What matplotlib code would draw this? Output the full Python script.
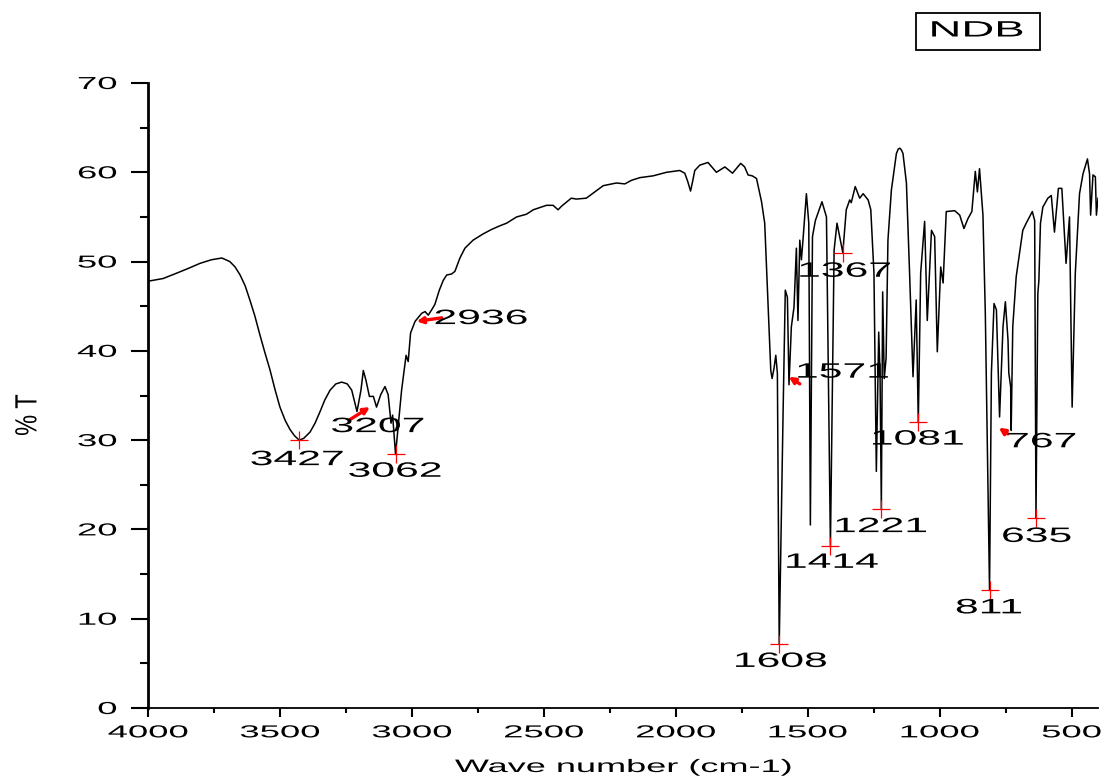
import matplotlib
matplotlib.use("Agg")
import matplotlib.pyplot as plt
from matplotlib import patheffects
from matplotlib.patches import Rectangle
from matplotlib.ticker import MultipleLocator
from matplotlib.transforms import Affine2D

# IR spectrum: wave number (cm-1) and % T
wavenumber = [4000, 3943, 3900, 3850, 3803, 3760, 3720, 3690, 3670, 3651, 3632, 3614,
              3595, 3576, 3557, 3538, 3519, 3500, 3480, 3462, 3445, 3427, 3410, 3386,
              3367, 3348, 3330, 3310, 3288, 3266, 3245, 3228, 3208, 3193, 3184, 3174,
              3161, 3146, 3134, 3118, 3102, 3090, 3079, 3073, 3062, 3052, 3039, 3022,
              3014, 3005, 2988, 2963, 2950, 2938, 2925, 2913, 2896, 2881, 2868, 2850,
              2837, 2818, 2799, 2768, 2730, 2698, 2667, 2641, 2603, 2566, 2540, 2490,
              2465, 2446, 2433, 2396, 2377, 2339, 2275, 2225, 2193, 2168, 2136, 2086,
              2035, 1985, 1966, 1955, 1944, 1936, 1928, 1909, 1878, 1846, 1814, 1785,
              1754, 1739, 1726, 1710, 1694, 1675, 1663, 1650, 1640, 1635, 1628, 1621,
              1615, 1608, 1593, 1585, 1577, 1571, 1562, 1552, 1543, 1537, 1530, 1524,
              1518, 1505, 1496, 1490, 1482, 1471, 1446, 1429, 1414, 1400, 1389, 1379,
              1367, 1354, 1341, 1335, 1320, 1303, 1290, 1271, 1261, 1249, 1240, 1231,
              1226, 1221, 1216, 1210, 1203, 1196, 1183, 1164, 1157, 1151, 1145, 1139,
              1126, 1114, 1101, 1089, 1081, 1072, 1057, 1047, 1031, 1019, 1009, 996,
              987, 975, 943, 924, 908, 893, 878, 865, 857, 849, 836, 827,
              811, 804, 794, 785, 773, 760, 751, 741, 738, 731, 729, 723,
              710, 685, 672, 663, 649, 640, 635, 628, 624, 618, 609, 590,
              577, 565, 550, 537, 521, 508, 498, 486, 470, 457, 440, 432,
              428, 419, 410, 406, 400]
transmittance = [47.8, 48.1, 48.6, 49.2, 49.8, 50.2, 50.4, 50.0, 49.4, 48.5, 47.3, 45.7,
                 43.9, 41.8, 39.8, 37.9, 35.7, 33.7, 32.2, 31.2, 30.5, 30.0, 30.2, 30.9,
                 31.9, 33.2, 34.5, 35.6, 36.3, 36.5, 36.3, 35.6, 33.2, 35.6, 37.8, 36.7,
                 34.9, 34.9, 33.7, 35.1, 36.0, 35.1, 31.9, 32.8, 28.4, 31.5, 35.6, 39.5,
                 38.8, 42.0, 43.3, 44.2, 44.4, 44.0, 44.6, 45.2, 46.8, 47.9, 48.5, 48.6,
                 48.9, 50.4, 51.5, 52.4, 53.1, 53.6, 54.0, 54.3, 55.0, 55.3, 55.8, 56.3,
                 56.3, 55.8, 56.2, 57.1, 57.0, 57.1, 58.5, 58.8, 58.7, 59.1, 59.4, 59.6,
                 60.0, 60.2, 59.9, 59.0, 57.9, 59.0, 60.2, 60.8, 61.1, 60.0, 60.6, 59.9,
                 61.0, 60.6, 59.7, 59.6, 59.3, 56.7, 54.3, 44.9, 37.8, 36.9, 38.0, 39.5,
                 37.5, 7.2, 33.7, 46.8, 46.0, 36.2, 42.7, 44.9, 51.5, 43.4, 52.4, 50.2,
                 52.4, 57.6, 54.3, 20.5, 52.8, 54.6, 56.7, 55.0, 18.2, 51.3, 54.3, 52.8,
                 51.0, 55.8, 56.9, 56.6, 58.4, 57.1, 57.6, 56.9, 55.8, 48.7, 26.5, 42.1,
                 37.5, 22.3, 46.6, 36.9, 39.2, 52.4, 58.0, 62.1, 62.6, 62.7, 62.5, 62.1,
                 58.8, 48.7, 37.1, 45.7, 32.0, 48.7, 54.5, 43.4, 53.5, 52.8, 39.9, 49.4,
                 47.6, 55.6, 55.7, 55.2, 53.7, 54.8, 55.6, 60.1, 57.8, 60.4, 55.2, 44.2,
                 13.2, 37.5, 45.3, 44.6, 32.6, 42.7, 45.5, 41.2, 37.5, 36.0, 31.1, 42.7,
                 48.3, 53.5, 54.3, 54.8, 55.6, 54.6, 21.3, 46.4, 47.9, 54.3, 56.1, 57.1,
                 57.4, 53.3, 58.2, 58.2, 49.8, 55.0, 33.7, 48.7, 57.6, 59.8, 61.5, 59.8,
                 55.2, 59.7, 59.5, 55.2, 57.1]

# picked peaks marked with red crosses
cross_x = [3427, 3062, 1608, 1414, 1221, 1081, 1367, 811, 635]
cross_y = [30.0, 28.4, 7.2, 18.2, 22.3, 32.0, 51.0, 13.2, 21.3]

# peak labels and where they sit
label_text = ["3427", "3207", "3062", "2936", "1571", "1367", "1081",
              "1221", "1414", "1608", "811", "635", "767"]
label_x = [3435, 3129, 3064, 2738, 1367, 1359, 1083, 1223, 1408, 1602, 813, 632, 613]
label_y = [27.2, 30.9, 25.9, 43.0, 37.0, 48.3, 29.5, 19.7, 15.7, 4.6, 10.6, 18.6, 29.2]

# small red arrows of the labels that are not crosses (tail -> head)
arrow_tail = [(3235, 32.3), (2887, 43.7), (1530, 36.3), (742, 30.7)]
arrow_head = [(3159, 33.7), (2982, 43.3), (1572, 37.1), (776, 31.4)]

FONT = "Liberation Sans"


class Stretch(patheffects.AbstractPathEffect):
    # widen glyphs sideways, the reference text is drawn extra wide
    def __init__(self, sx=2.0, anchor="center"):
        super().__init__()
        self.sx = sx
        self.anchor = anchor

    def draw_path(self, renderer, gc, tpath, affine, rgbFace=None):
        box = tpath.get_extents(affine)
        if self.anchor == "right":
            x0 = box.x1
        elif self.anchor == "left":
            x0 = box.x0
        else:
            x0 = 0.5 * (box.x0 + box.x1)
        aff = affine + Affine2D().translate(-x0, 0).scale(self.sx, 1).translate(x0, 0)
        renderer.draw_path(gc, tpath, aff, rgbFace)


fig = plt.figure(figsize=(11.06, 7.79), dpi=100)
ax = fig.add_axes([148 / 1106, 1 - 708 / 779, 950 / 1106, 625 / 779])

ax.plot(wavenumber, transmittance, color="black", lw=1.1)
ax.plot(cross_x, cross_y, ls="none", marker="+", color="red", ms=13, mew=0.9)

for tail, head in zip(arrow_tail, arrow_head):
    ax.annotate("", xy=head, xytext=tail,
                arrowprops=dict(arrowstyle="-|>", color="red", lw=2.4,
                                mutation_scale=9, shrinkA=0, shrinkB=0))

for s, x, y in zip(label_text, label_x, label_y):
    ax.text(x, y, s, ha="center", va="baseline", fontsize=15, family=FONT,
            color="black", path_effects=[Stretch(2.05)])

ax.set_xlim(4000, 400)
ax.set_ylim(0, 70)
ax.set_xticks([4000, 3500, 3000, 2500, 2000, 1500, 1000, 500])
ax.set_yticks([0, 10, 20, 30, 40, 50, 60, 70])
ax.xaxis.set_minor_locator(MultipleLocator(250))
ax.yaxis.set_minor_locator(MultipleLocator(5))

for side in ["top", "right"]:
    ax.spines[side].set_visible(False)
ax.spines["left"].set_linewidth(2.0)
ax.spines["bottom"].set_linewidth(1.3)

ax.tick_params(axis="x", which="major", direction="out", length=6.5, width=1.5, pad=6)
ax.tick_params(axis="x", which="minor", direction="out", length=3.3, width=1.5)
ax.tick_params(axis="y", which="major", direction="out", length=12, width=1.5, pad=10.5)
ax.tick_params(axis="y", which="minor", direction="out", length=6, width=1.5)

for lab in ax.get_xticklabels():
    lab.set_fontfamily(FONT)
    lab.set_fontsize(12.5)
    lab.set_path_effects([Stretch(2.1)])
for lab in ax.get_yticklabels():
    lab.set_fontfamily(FONT)
    lab.set_fontsize(12.5)
    lab.set_path_effects([Stretch(2.1, anchor="right")])

fig.text(623 / 1106, 1 - 772 / 779, "Wave number (cm-1)", ha="center", va="baseline",
         fontsize=13, family=FONT, path_effects=[Stretch(2.0)])
fig.text(28 / 1106, 1 - 415 / 779, "% T", ha="center", va="center", rotation=90,
         fontsize=17, family=FONT, path_effects=[Stretch(1.3)])

# NDB tag in a box, top right
fig.patches.append(Rectangle((916 / 1106, 1 - 50 / 779), 124 / 1106, 37 / 779,
                             transform=fig.transFigure, fill=False, lw=1.3,
                             edgecolor="black"))
fig.text(977 / 1106, 1 - 31 / 779, "NDB", ha="center", va="center", fontsize=16,
         family=FONT, path_effects=[Stretch(2.05)])

fig.savefig("out.png", dpi=100)
